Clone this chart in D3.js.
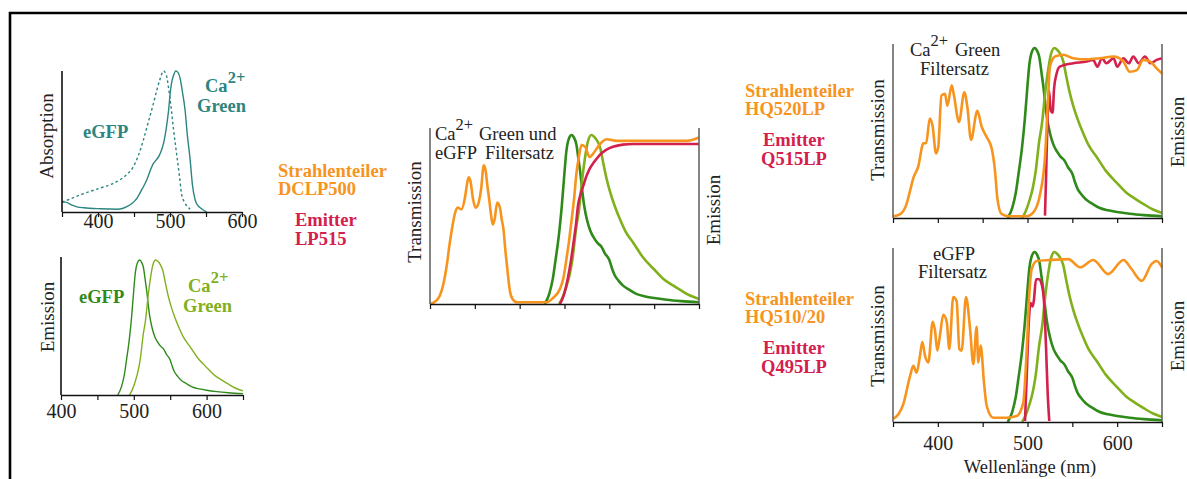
<!DOCTYPE html>
<html>
<head>
<meta charset="utf-8">
<script src="https://cdnjs.cloudflare.com/ajax/libs/d3/7.8.5/d3.min.js"></script>
<style>
  body { margin: 0; background: #fff; }
  svg { display: block; }
  text { font-family: 'Liberation Serif', 'Times New Roman', serif; }
</style>
</head>
<body>
<div id="root"></div>
<script>
const serif = "'Liberation Serif', 'Times New Roman', serif";

// Colours
const teal = '#2b8580';
const darkGreen = '#2f8a1a';
const lightGreen = '#80b01c';
const orange = '#f7941e';
const crimson = '#d4204c';

// Spectra, [wavelength nm, relative value]
const eGFPAbs = [[350,0.07],[365,0.1],[380,0.13],[403,0.17],[420,0.2],[431,0.23],[441,0.27],[449,0.32],
  [456,0.4],[463,0.51],[470,0.64],[477,0.77],[482,0.87],[486,0.94],[491,1.0],[495,0.97],[498,0.88],
  [502,0.72],[505,0.58],[509,0.42],[513,0.26],[516,0.13],[520,0.07],[524,0.04],[528,0.02]];

const caGreenAbs = [[350,0.07],[355,0.07],[363,0.05],[372,0.035],[380,0.03],[403,0.023],[427,0.02],
  [434,0.025],[440,0.038],[447,0.06],[454,0.097],[461,0.16],[468,0.23],[473,0.3],[477,0.345],[481,0.37],
  [485,0.4],[489,0.45],[492,0.51],[495,0.6],[498,0.72],[500,0.83],[502,0.91],[505,0.97],[508,1.0],
  [511,0.99],[514,0.95],[517,0.86],[521,0.72],[524,0.55],[528,0.37],[531,0.2],[535,0.085],[538,0.05],
  [542,0.03],[551,0]];

const eGFPEm = [[478,0],[483,0.06],[487,0.15],[490,0.26],[494,0.42],[497,0.58],[500,0.78],[502,0.9],
  [505,0.98],[508,1.0],[511,0.98],[513,0.95],[516,0.84],[518,0.76],[520,0.66],[522,0.58],[525,0.5],
  [529,0.43],[533,0.39],[537,0.36],[541,0.34],[545,0.3],[550,0.26],[553,0.21],[556,0.17],[560,0.14],
  [565,0.11],[572,0.085],[580,0.06],[590,0.045],[600,0.035],[614,0.025],[630,0.017],[650,0.01]];

const caGreenEm = [[494,0],[498,0.04],[502,0.1],[506,0.18],[509,0.27],[513,0.45],[516,0.55],[520,0.75],
  [523,0.87],[526,0.96],[530,1.0],[533,0.99],[536,0.97],[540,0.92],[543,0.84],[547,0.74],[551,0.66],
  [556,0.58],[562,0.5],[568,0.43],[577,0.36],[587,0.28],[599,0.21],[610,0.15],[621,0.11],[630,0.08],
  [640,0.05],[650,0.03]];

// Filter set: Strahlenteiler DCLP500 / Emitter LP515
const dclp500 = [[350,0],[357,0.02],[361,0.05],[365,0.12],[369,0.24],[372,0.36],[375,0.46],[378,0.54],
  [381,0.57],[385,0.56],[389,0.63],[391,0.7],[393,0.75],[395,0.73],[398,0.62],[401,0.57],[403,0.58],
  [407,0.68],[410,0.82],[412,0.79],[414,0.7],[416,0.62],[418,0.53],[420,0.47],[422,0.5],[425,0.6],
  [428,0.57],[430,0.5],[432,0.44],[434,0.32],[436,0.22],[439,0.08],[442,0.03],[447,0.01],[480,0.01],
  [487,0.035],[495,0.09],[499,0.16],[502,0.26],[505,0.37],[508,0.5],[511,0.64],[513,0.76],[516,0.87],
  [519,0.94],[523,0.93],[528,0.87],[532,0.89],[536,0.92],[542,0.96],[547,0.975],[558,0.965],[580,0.965],
  [610,0.965],[636,0.965],[645,0.975],[650,0.985]];
const lp515 = [[495,0],[499,0.05],[504,0.16],[507,0.25],[510,0.36],[513,0.48],[515,0.58],[518,0.65],
  [521,0.7],[524,0.75],[528,0.8],[533,0.84],[539,0.88],[546,0.91],[554,0.93],[565,0.943],[577,0.947],
  [650,0.947]];

// Filter set: Strahlenteiler HQ520LP / Emitter Q515LP
const hq520lp = [[350,0.01],[358,0.023],[365,0.08],[369,0.16],[373,0.24],[378,0.3],[384,0.44],[387,0.44],
  [391,0.585],[394,0.545],[398,0.38],[400.5,0.417],[404,0.72],[408,0.73],[410.6,0.66],[415.5,0.78],
  [418,0.72],[423.6,0.565],[429.5,0.74],[433,0.65],[437,0.46],[444,0.63],[449,0.535],[454.5,0.476],
  [460,0.41],[463.7,0.28],[466.3,0.12],[471,0.024],[480,0.01],[499,0.01],[506.5,0.033],[514,0.14],
  [519.5,0.36],[523,0.71],[525,0.89],[530.7,0.95],[540,0.96],[551,0.94],[566,0.933],[581,0.94],
  [596,0.95],[607,0.92],[614,0.86],[622,0.87],[629,0.93],[637,0.92],[644,0.88],[650,0.85]];
const q515lp = [[519.5,0.014],[520.6,0.22],[522,0.52],[524,0.75],[526,0.63],[528,0.62],[529.6,0.76],
  [532.5,0.85],[536,0.89],[551,0.91],[566,0.92],[573,0.93],[578,0.89],[583,0.94],[588,0.91],[596,0.94],
  [600,0.89],[607,0.94],[613,0.91],[618,0.95],[624,0.91],[631,0.95],[637,0.91],[644,0.93],[650,0.94]];

// Filter set: Strahlenteiler HQ510/20 / Emitter Q495LP
const hq510_20 = [[350.4,0.02],[356,0.045],[361.5,0.105],[369,0.27],[372.7,0.33],[376.4,0.29],[380.1,0.39],
  [382.7,0.47],[385.7,0.39],[389.4,0.35],[394.3,0.59],[396.8,0.54],[399.4,0.42],[402.4,0.51],[406.1,0.63],
  [409.9,0.59],[412.8,0.43],[417.2,0.735],[421,0.71],[424,0.43],[426.6,0.42],[431.4,0.735],[435.9,0.55],
  [439.6,0.34],[443.3,0.56],[445.1,0.35],[447.8,0.45],[451.5,0.23],[454.5,0.095],[461.9,0.025],
  [476.8,0.025],[488,0.035],[495.3,0.114],[499,0.41],[502,0.75],[504.7,0.9],[510.3,0.947],[525,0.953],
  [545.5,0.958],[558.5,0.91],[573.4,0.953],[590,0.87],[607,0.953],[616,0.9],[627.4,0.83],[638.5,0.93],
  [644,0.947],[650,0.91]];
const q495lp = [[497.2,0.006],[499,0.25],[500.9,0.53],[503.5,0.7],[505.8,0.68],[507.2,0.72],[509.5,0.84],
  [512.8,0.84],[515.8,0.81],[518.4,0.71],[520.6,0.45],[522.5,0.17],[524.3,0.006]];

// Axis ticks
const tickStep = 50;
const tickLabels = [400, 500, 600];

const svg = d3.select('#root')
  .append('svg')
  .attr('width', 1187)
  .attr('height', 479);

svg.append('rect').attr('width', 1187).attr('height', 479).attr('fill', '#fff');

// Frame
svg.append('path')
  .attr('d', 'M10,479V13H1187')
  .attr('fill', 'none')
  .attr('stroke', '#000')
  .attr('stroke-width', 2.6);

/**
 * Draw one spectrum panel
 */
function panel(p) {
  const x = d3.scaleLinear().domain(p.domain).range([p.left, p.right]);
  const y = d3.scaleLinear().domain([0, 1]).range([p.bottom, p.peak]);
  const g = svg.append('g');

  const line = d3.line()
    .x(d => x(d[0]))
    .y(d => y(d[1]))
    .curve(d3.curveMonotoneX);

  p.series.forEach(s => {
    g.append('path')
      .datum(s.data)
      .attr('d', line)
      .attr('fill', 'none')
      .attr('stroke', s.color)
      .attr('stroke-width', p.width)
      .attr('stroke-linejoin', 'round')
      .attr('stroke-dasharray', s.dash || null);
  });

  // Axes
  g.append('line')
    .attr('x1', p.left).attr('x2', p.left)
    .attr('y1', p.top).attr('y2', p.bottom)
    .attr('stroke', p.axisColor).attr('stroke-width', 1.6);
  if (p.rightAxis) {
    g.append('line')
      .attr('x1', p.right).attr('x2', p.right)
      .attr('y1', p.top).attr('y2', p.bottom)
      .attr('stroke', p.axisColor).attr('stroke-width', 1.6);
  }

  const axis = d3.axisBottom(x)
    .tickValues(d3.range(p.domain[0], p.domain[1] + 1, tickStep))
    .tickSize(5)
    .tickSizeOuter(0)
    .tickFormat(d => (p.labelDy && tickLabels.includes(d)) ? d : '');

  const ax = g.append('g')
    .attr('transform', `translate(0,${p.bottom})`)
    .call(axis)
    .attr('font-family', serif);
  ax.select('.domain').attr('stroke', '#111').attr('stroke-width', 1.6);
  ax.selectAll('.tick line').attr('stroke', '#111').attr('stroke-width', 1.2);
  ax.selectAll('.tick text')
    .attr('y', p.labelDy || 0)
    .attr('dy', null)
    .attr('fill', '#222')
    .attr('font-family', serif)
    .attr('font-size', p.labelSize);

  return g;
}

panel({domain: [350, 600], left: 62, right: 242, bottom: 212, top: 71, peak: 71,
  width: 1.4, axisColor: '#111', labelDy: 16, labelSize: 20,
  series: [{data: eGFPAbs, color: teal, dash: '2.6,2.6'}, {data: caGreenAbs, color: teal}]});

panel({domain: [400, 650], left: 61, right: 243, bottom: 395, top: 257, peak: 260,
  width: 1.4, axisColor: '#111', labelDy: 23, labelSize: 20,
  series: [{data: eGFPEm, color: darkGreen}, {data: caGreenEm, color: lightGreen}]});

panel({domain: [350, 650], left: 430, right: 699, bottom: 304, top: 128, peak: 135,
  width: 2.6, axisColor: '#666', rightAxis: true,
  series: [{data: eGFPEm, color: darkGreen}, {data: caGreenEm, color: lightGreen},
    {data: lp515, color: crimson}, {data: dclp500, color: orange}]});

panel({domain: [350, 650], left: 893, right: 1162, bottom: 218, top: 44, peak: 48,
  width: 2.6, axisColor: '#666', rightAxis: true,
  series: [{data: eGFPEm, color: darkGreen}, {data: caGreenEm, color: lightGreen},
    {data: q515lp, color: crimson}, {data: hq520lp, color: orange}]});

panel({domain: [350, 650], left: 893, right: 1162, bottom: 422, top: 248, peak: 252,
  width: 2.6, axisColor: '#666', rightAxis: true, labelDy: 28, labelSize: 20,
  series: [{data: eGFPEm, color: darkGreen}, {data: caGreenEm, color: lightGreen},
    {data: q495lp, color: crimson}, {data: hq510_20, color: orange}]});

/**
 * Text with optional superscript parts
 */
function text(x, y, parts, color, opts = {}) {
  const t = svg.append('text')
    .attr('x', x)
    .attr('y', y)
    .attr('fill', color)
    .attr('font-family', serif)
    .attr('font-size', opts.size || 18.5)
    .attr('font-weight', opts.bold ? 'bold' : 'normal');
  let raised = false;
  parts.forEach(part => {
    const s = typeof part === 'string' ? {t: part} : part;
    const span = t.append('tspan').text(s.t);
    if (s.x !== undefined) span.attr('x', s.x);
    if (s.sup) {
      span.attr('dy', -s.sup).attr('font-size', opts.supSize || 16.5);
      raised = s.sup;
    } else if (raised) {
      span.attr('dy', raised);
      raised = false;
    }
  });
  return t;
}

function vtext(x, y, str) {
  svg.append('text')
    .attr('transform', `translate(${x},${y}) rotate(-90)`)
    .attr('text-anchor', 'middle')
    .attr('fill', '#222')
    .attr('font-family', serif)
    .attr('font-size', 19)
    .text(str);
}

// Axis titles
vtext(53, 136, 'Absorption');
vtext(54, 317, 'Emission');
vtext(421, 212, 'Transmission');
vtext(720, 210, 'Emission');
vtext(884, 130, 'Transmission');
vtext(1184, 132, 'Emission');
vtext(884, 336, 'Transmission');
vtext(1184, 336, 'Emission');

svg.append('text')
  .attr('x', 1030).attr('y', 473)
  .attr('text-anchor', 'middle')
  .attr('fill', '#222')
  .attr('font-family', serif)
  .attr('font-size', 18.5)
  .text('Wellenlänge (nm)');

// Dye labels
text(83, 138, ['eGFP'], teal, {bold: true});
text(205, 92, ['Ca', {t: '2+', sup: 9}], teal, {bold: true});
text(197, 112, ['Green'], teal, {bold: true});
text(79, 303, ['eGFP'], darkGreen, {bold: true});
text(188, 292, ['Ca', {t: '2+', sup: 9}], lightGreen, {bold: true});
text(183, 312, ['Green'], lightGreen, {bold: true});

// Filter set titles
text(435, 140, ['Ca', {t: '2+', sup: 10}, {t: 'Green und', x: 479}], '#222');
text(435, 159, ['eGFP', {t: 'Filtersatz', x: 485}], '#222');
text(910, 56, ['Ca', {t: '2+', sup: 10}, {t: 'Green', x: 955}], '#222');
text(920, 75, ['Filtersatz'], '#222');
text(933, 260, ['eGFP'], '#222');
text(918, 278, ['Filtersatz'], '#222');

// Filter names
text(278, 177, ['Strahlenteiler'], orange, {bold: true});
text(278, 195, ['DCLP500'], orange, {bold: true});
text(295, 226, ['Emitter'], crimson, {bold: true});
text(295, 245, ['LP515'], crimson, {bold: true});

text(745, 97, ['Strahlenteiler'], orange, {bold: true});
text(745, 115, ['HQ520LP'], orange, {bold: true});
text(763, 146, ['Emitter'], crimson, {bold: true});
text(761, 165, ['Q515LP'], crimson, {bold: true});

text(745, 305, ['Strahlenteiler'], orange, {bold: true});
text(745, 323, ['HQ510/20'], orange, {bold: true});
text(763, 354, ['Emitter'], crimson, {bold: true});
text(761, 373, ['Q495LP'], crimson, {bold: true});
</script>
</body>
</html>
